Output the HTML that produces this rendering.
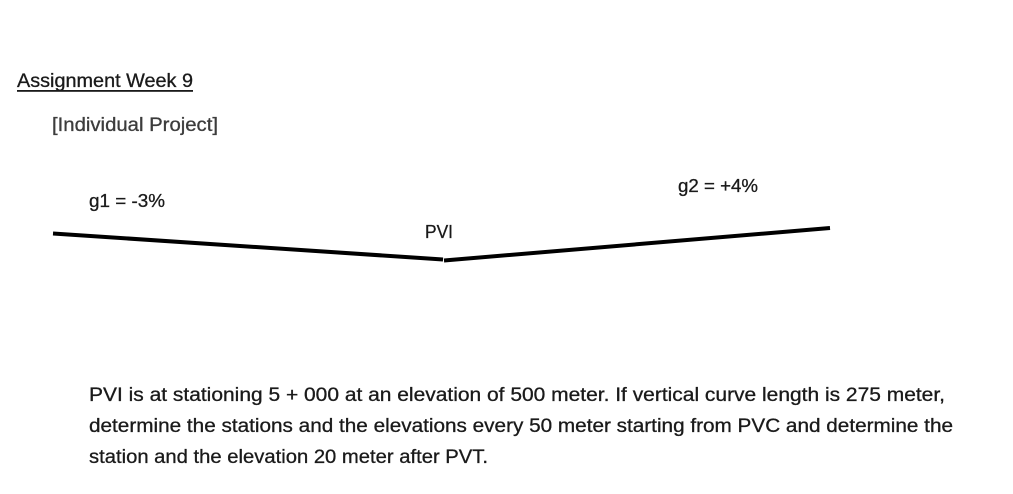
<!DOCTYPE html>
<html>
<head>
<meta charset="utf-8">
<style>
  html, body { margin: 0; padding: 0; background: #ffffff; }
  body { width: 1013px; height: 494px; overflow: hidden; }
  svg { display: block; }
  text { font-family: "Liberation Sans", "DejaVu Sans", sans-serif; stroke-width: 0.3; }
</style>
</head>
<body>
<svg width="1013" height="494" viewBox="0 0 1013 494" xmlns="http://www.w3.org/2000/svg">
  <rect width="1013" height="494" fill="#ffffff"/>

  <!-- Title -->
  <text x="17" y="87" font-size="19" fill="#1a1a1a" stroke="#1a1a1a" textLength="176" lengthAdjust="spacingAndGlyphs">Assignment Week 9</text>
  <rect x="17" y="90" width="176" height="1.8" fill="#1a1a1a"/>

  <!-- Subtitle -->
  <text x="52" y="131" font-size="19" fill="#3c3c3c" stroke="#3c3c3c" textLength="166" lengthAdjust="spacingAndGlyphs">[Individual Project]</text>

  <!-- Grade labels -->
  <text x="89" y="207" font-size="18.5" fill="#1a1a1a" stroke="#1a1a1a" textLength="76" lengthAdjust="spacingAndGlyphs">g1 = -3%</text>
  <text x="678" y="192" font-size="18.5" fill="#1a1a1a" stroke="#1a1a1a" textLength="80" lengthAdjust="spacingAndGlyphs">g2 = +4%</text>
  <text x="425" y="238" font-size="18.5" fill="#1a1a1a" stroke="#1a1a1a" textLength="28" lengthAdjust="spacingAndGlyphs">PVI</text>

  <!-- Grade lines -->
  <line x1="53" y1="233.5" x2="443" y2="259.5" stroke="#000" stroke-width="4"/>
  <line x1="444" y1="260.5" x2="830" y2="228" stroke="#000" stroke-width="4"/>

  <!-- Paragraph -->
  <text x="89" y="401" font-size="19" fill="#1a1a1a" stroke="#1a1a1a" textLength="856" lengthAdjust="spacingAndGlyphs">PVI is at stationing 5 + 000 at an elevation of 500 meter. If vertical curve length is 275 meter,</text>
  <text x="89" y="432" font-size="19" fill="#1a1a1a" stroke="#1a1a1a" textLength="864" lengthAdjust="spacingAndGlyphs">determine the stations and the elevations every 50 meter starting from PVC and determine the</text>
  <text x="89" y="463" font-size="19" fill="#1a1a1a" stroke="#1a1a1a" textLength="399" lengthAdjust="spacingAndGlyphs">station and the elevation 20 meter after PVT.</text>
</svg>
</body>
</html>
